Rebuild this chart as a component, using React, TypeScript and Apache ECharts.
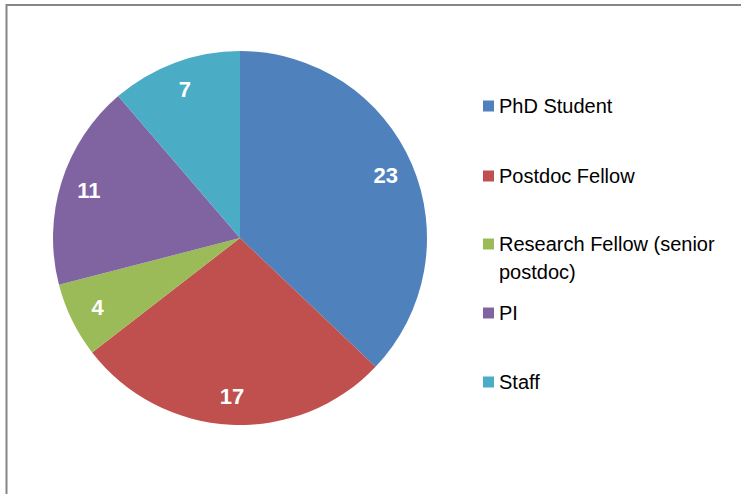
import React, { useEffect, useRef } from "react";
import * as echarts from "echarts";

const categories = ["PhD Student", "Postdoc Fellow", "Research Fellow (senior postdoc)", "PI", "Staff"];
const values = [23, 17, 4, 11, 7];
const colors = ["#4F81BD", "#C0504D", "#9BBB59", "#8064A2", "#4BACC6"];
const legendCenters = [106, 176, 244, 313, 382];

export default function App() {
  const ref = useRef<HTMLDivElement>(null);
  useEffect(() => {
    if (!ref.current) return;
    const chart = echarts.init(ref.current, null, { renderer: "svg" });
    const data = categories.map((name, i) => ({ name, value: values[i], itemStyle: { color: colors[i] } }));
    const legends = categories.map((name, i) => {
      const multi = name.startsWith("Research");
      return {
        data: [name],
        orient: "vertical",
        left: 483,
        top: multi ? legendCenters[i] - 42 : legendCenters[i] - 14,
        padding: 0,
        icon: "rect",
        itemWidth: 11,
        itemHeight: 11,
        selectedMode: false,
        formatter: (n: string) => (n.startsWith("Research") ? "\nResearch Fellow (senior\npostdoc)" : n),
        textStyle: {
          fontFamily: "Liberation Sans",
          fontSize: 20,
          color: "#000",
          lineHeight: 28,
        },
      };
    });
    chart.setOption({
      animation: false,
      backgroundColor: "#fff",
      graphic: [
        {
          type: "rect",
          shape: { x: 6.5, y: 5, width: 800, height: 600 },
          style: { fill: "none", stroke: "#868686", lineWidth: 2 },
          silent: true,
        },
      ],
      legend: legends,
      series: [
        {
          type: "pie",
          center: [240, 238],
          radius: [0, 187],
          startAngle: 90,
          clockwise: true,
          label: { show: false },
          labelLine: { show: false },
          emphasis: { disabled: true },
          data,
        },
        {
          type: "pie",
          center: [240, 238],
          radius: [124, 187],
          startAngle: 90,
          clockwise: true,
          silent: true,
          itemStyle: { color: "rgba(0,0,0,0)" },
          label: {
            show: true,
            position: "inside",
            formatter: "{c}",
            color: "#fff",
            fontWeight: "bold",
            fontSize: 22,
            fontFamily: "Liberation Sans",
          },
          labelLine: { show: false },
          emphasis: { disabled: true },
          data: categories.map((name, i) => ({ name, value: values[i] })),
        },
      ],
    });
    return () => chart.dispose();
  }, []);
  return (
    <div
      ref={ref}
      style={{ position: "fixed", left: 0, top: 0, width: 741, height: 494 }}
    />
  );
}
